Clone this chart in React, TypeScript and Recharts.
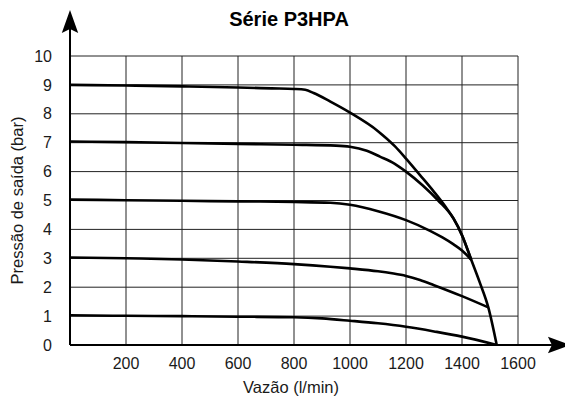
import { LineChart, Line, XAxis, YAxis, CartesianGrid, ReferenceLine } from 'recharts'

// Curves: output pressure (bar) against flow (l/min)
const curve9bar = [
  { x: 0, y: 9.0 }, { x: 200, y: 8.98 }, { x: 400, y: 8.95 }, { x: 600, y: 8.91 },
  { x: 720, y: 8.88 }, { x: 800, y: 8.86 }, { x: 840, y: 8.83 }, { x: 870, y: 8.72 },
  { x: 930, y: 8.42 }, { x: 1000, y: 8.04 }, { x: 1100, y: 7.4 }, { x: 1160, y: 6.88 },
  { x: 1200, y: 6.45 }, { x: 1250, y: 5.88 }, { x: 1300, y: 5.3 }, { x: 1340, y: 4.8 },
  { x: 1370, y: 4.37 }, { x: 1400, y: 3.8 }, { x: 1433, y: 2.95 }, { x: 1464, y: 2.15 },
  { x: 1494, y: 1.3 }, { x: 1524, y: 0 },
]

const curve7bar = [
  { x: 0, y: 7.04 }, { x: 200, y: 7.02 }, { x: 400, y: 6.99 }, { x: 600, y: 6.96 },
  { x: 800, y: 6.93 }, { x: 950, y: 6.9 }, { x: 1000, y: 6.86 }, { x: 1060, y: 6.72 },
  { x: 1107, y: 6.52 }, { x: 1160, y: 6.27 }, { x: 1200, y: 6.0 }, { x: 1260, y: 5.52 },
  { x: 1315, y: 5.0 }, { x: 1370, y: 4.37 }, { x: 1400, y: 3.8 }, { x: 1433, y: 2.95 },
]

const curve5bar = [
  { x: 0, y: 5.03 }, { x: 200, y: 5.01 }, { x: 400, y: 4.99 }, { x: 600, y: 4.97 },
  { x: 800, y: 4.95 }, { x: 930, y: 4.92 }, { x: 1000, y: 4.85 }, { x: 1100, y: 4.63 },
  { x: 1200, y: 4.32 }, { x: 1286, y: 3.95 }, { x: 1330, y: 3.72 }, { x: 1370, y: 3.48 },
  { x: 1400, y: 3.27 }, { x: 1433, y: 2.95 },
]

const curve3bar = [
  { x: 0, y: 3.03 }, { x: 200, y: 3.0 }, { x: 400, y: 2.96 }, { x: 600, y: 2.89 },
  { x: 800, y: 2.8 }, { x: 930, y: 2.71 }, { x: 1000, y: 2.65 }, { x: 1100, y: 2.55 },
  { x: 1150, y: 2.48 }, { x: 1200, y: 2.39 }, { x: 1250, y: 2.25 }, { x: 1300, y: 2.07 },
  { x: 1400, y: 1.69 }, { x: 1494, y: 1.3 },
]

const curve1bar = [
  { x: 0, y: 1.03 }, { x: 200, y: 1.01 }, { x: 400, y: 1.0 }, { x: 600, y: 0.98 },
  { x: 800, y: 0.96 }, { x: 900, y: 0.92 }, { x: 1000, y: 0.84 }, { x: 1100, y: 0.75 },
  { x: 1200, y: 0.63 }, { x: 1300, y: 0.47 }, { x: 1400, y: 0.29 }, { x: 1524, y: 0 },
]

const curves = [curve9bar, curve7bar, curve5bar, curve3bar, curve1bar]

const flowTicks = [200, 400, 600, 800, 1000, 1200, 1400, 1600]
const pressureTicks = [0, 1, 2, 3, 4, 5, 6, 7, 8, 9, 10]

// axis arrows run past the grid, in data units
const xArrowEnd = 1789
const yArrowEnd = 11.59

const FONT = '"Liberation Sans", Arial, Helvetica, sans-serif'

// line + notched arrowhead, drawn from the reference line's end points
function ArrowLine(props: any) {
  const { x1, y1, x2, y2 } = props
  const dx = x2 - x1
  const dy = y2 - y1
  const len = Math.hypot(dx, dy) || 1
  const ux = dx / len
  const uy = dy / len
  const nx = -uy
  const ny = ux
  const L = 23
  const W = 8.2
  const notch = 4
  const bx = x2 - ux * L
  const by = y2 - uy * L
  const pts = [
    [x2, y2],
    [bx + nx * W, by + ny * W],
    [x2 - ux * (L - notch), y2 - uy * (L - notch)],
    [bx - nx * W, by - ny * W],
  ]
    .map((p) => p.join(','))
    .join(' ')
  return (
    <g>
      <line
        x1={x1}
        y1={y1}
        x2={x2 - ux * (L - notch)}
        y2={y2 - uy * (L - notch)}
        stroke="#000"
        strokeWidth={2}
      />
      <polygon points={pts} fill="#000" />
    </g>
  )
}

export default function App() {
  return (
    <div
      style={{
        position: 'absolute',
        left: 0,
        top: 0,
        width: 565,
        height: 397,
        background: '#fff',
        fontFamily: FONT,
      }}
    >
      <div
        style={{
          position: 'absolute',
          left: 0,
          top: 9,
          width: 578,
          textAlign: 'center',
          fontSize: 20,
          lineHeight: '20px',
          fontWeight: 'bold',
          color: '#000',
        }}
      >
        Série P3HPA
      </div>
      <LineChart width={565} height={397} margin={{ top: 56, right: 47, bottom: 0, left: 0 }}>
        <CartesianGrid stroke="#222" strokeWidth={1} />
        <XAxis
          type="number"
          dataKey="x"
          domain={[0, 1600]}
          ticks={flowTicks}
          allowDataOverflow
          height={52}
          axisLine={false}
          tickLine={false}
          tickSize={0}
          tickMargin={13}
          tick={{ fill: '#1a1a1a', fontSize: 16, fontFamily: FONT }}
          label={{
            value: 'Vazão (l/min)',
            position: 'insideBottom',
            offset: 4,
            dx: -3,
            fill: '#1a1a1a',
            fontSize: 16.5,
            fontFamily: FONT,
          }}
        />
        <YAxis
          type="number"
          domain={[0, 10]}
          ticks={pressureTicks}
          allowDataOverflow
          width={70}
          axisLine={false}
          tickLine={false}
          tickSize={0}
          tickMargin={18}
          tick={{ fill: '#1a1a1a', fontSize: 16, fontFamily: FONT }}
          label={{
            value: 'Pressão de saída (bar)',
            angle: -90,
            position: 'insideLeft',
            offset: 14.5,
            dx: 2.5,
            fill: '#1a1a1a',
            fontSize: 16.5,
            fontFamily: FONT,
            style: { textAnchor: 'middle' },
          }}
        />
        {curves.map((data, i) => (
          <Line
            key={i}
            data={data}
            dataKey="y"
            type="monotone"
            stroke="#000"
            strokeWidth={2.6}
            dot={false}
            activeDot={false}
            isAnimationActive={false}
          />
        ))}
        <ReferenceLine
          segment={[{ x: 0, y: 0 }, { x: xArrowEnd, y: 0 }]}
          ifOverflow="visible"
          shape={ArrowLine}
        />
        <ReferenceLine
          segment={[{ x: 0, y: 0 }, { x: 0, y: yArrowEnd }]}
          ifOverflow="visible"
          shape={ArrowLine}
        />
      </LineChart>
    </div>
  )
}
